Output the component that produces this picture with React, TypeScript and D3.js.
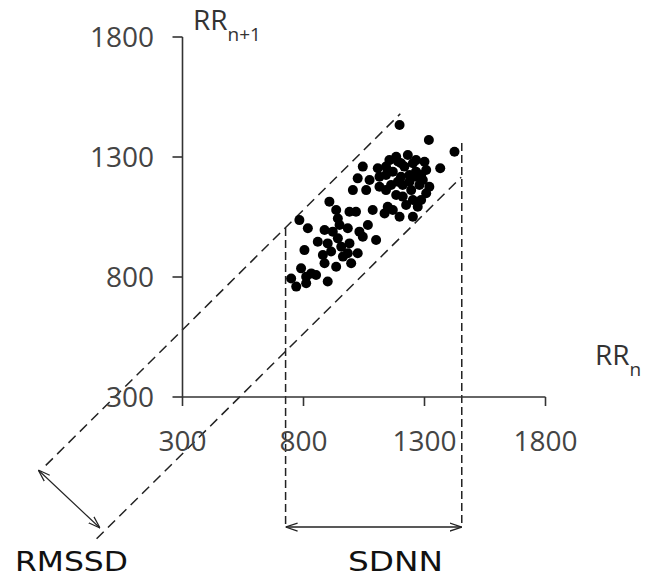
import React from 'react';
import * as d3 from 'd3';

const tickValues = [300, 800, 1300, 1800];

// RR_n (x) and RR_n+1 (y) in ms
const rrN = [1197, 1318, 1424, 1365, 1183, 1231, 1265, 1300, 1252, 1107, 1141, 1045, 1217, 1265, 1169, 1203, 1141, 1265, 1293, 1024, 1073, 1114, 1059, 1004, 1141, 1210, 1238, 1279, 1307, 1183, 1210, 1252, 1224, 1148, 1169, 1197, 1252, 1135, 1086, 1066, 907, 990, 1017, 935, 942, 949, 783, 818, 887, 921, 983, 1031, 1045, 859, 900, 942, 956, 990, 1100, 804, 880, 914, 963, 983, 1024, 790, 832, 852, 811, 887, 935, 997, 749, 770, 811, 900, 1203, 1238, 1307, 1320, 1286, 1245, 1272, 1190, 1162, 1190, 1286, 1155, 1114];
const rrN1 = [1433, 1371, 1322, 1253, 1301, 1308, 1287, 1280, 1274, 1253, 1260, 1260, 1260, 1239, 1239, 1218, 1225, 1218, 1204, 1211, 1204, 1218, 1162, 1162, 1162, 1183, 1197, 1183, 1149, 1142, 1135, 1121, 1100, 1093, 1079, 1051, 1051, 1065, 1079, 1017, 1114, 1072, 1072, 1079, 1044, 1017, 1037, 1003, 996, 989, 1003, 989, 968, 947, 940, 961, 926, 940, 954, 912, 892, 906, 885, 899, 899, 836, 815, 808, 801, 857, 843, 857, 794, 760, 774, 781, 1274, 1225, 1246, 1176, 1121, 1162, 1093, 1197, 1183, 1281, 1225, 1287, 1176];

// band lines parallel to identity (data units)
const upperBand = [[-265, 15], [1200, 1480]];
const lowerBand = [[-55, -291], [1452, 1216]];
// SDNN verticals and arrow
const sdnnLeft = [[726, 1004], [726, -242]];
const sdnnRight = [[1454, 1358], [1454, -242]];
const sdnnArrow = [[726, -242], [1454, -242]];
// RMSSD arrow
const rmssdArrow = [[-296, -4], [-41, -246]];

export default function App() {
  const W = 647, H = 579;
  const x = d3.scaleLinear().domain([300, 1800]).range([182.5, 545.5]);
  const y = d3.scaleLinear().domain([300, 1800]).range([397, 37]);
  const line = d3.line<number[]>().x(d => x(d[0])).y(d => y(d[1]));
  const tickFont = "'Open Sans', 'Noto Sans', sans-serif";
  const ink = '#222';
  const dash = '10,6';
  return (
    <svg width={W} height={H} style={{ position: 'absolute', left: 0, top: 0, background: '#fff' }}>
      <defs>
        <marker id="arr" viewBox="0 0 12 10" refX="12" refY="5" markerWidth="12" markerHeight="10"
          markerUnits="userSpaceOnUse" orient="auto-start-reverse">
          <path d="M0,1 L12,5 L0,9" fill="none" stroke={ink} strokeWidth={1.2} />
        </marker>
      </defs>
      <rect width={W} height={H} fill="#fff" />
      {/* dashed band lines */}
      <path d={line(upperBand as any) || ''} stroke={ink} strokeWidth={1.5} strokeDasharray={dash} fill="none" />
      <path d={line(lowerBand as any) || ''} stroke={ink} strokeWidth={1.5} strokeDasharray={dash} fill="none" />
      <path d={line(sdnnLeft as any) || ''} stroke={ink} strokeWidth={1.5} strokeDasharray="8,4" fill="none" />
      <path d={line(sdnnRight as any) || ''} stroke={ink} strokeWidth={1.5} strokeDasharray="8,4" fill="none" />
      <path d={line(sdnnArrow as any) || ''} stroke={ink} strokeWidth={1.5} fill="none"
        markerStart="url(#arr)" markerEnd="url(#arr)" />
      <path d={line(rmssdArrow as any) || ''} stroke={ink} strokeWidth={1.2} fill="none"
        markerStart="url(#arr)" markerEnd="url(#arr)" />
      {/* axes */}
      <line x1={x(300)} x2={x(1800)} y1={y(300)} y2={y(300)} stroke="#333" strokeWidth={1.6} />
      <line x1={x(300)} x2={x(300)} y1={y(300)} y2={y(1800)} stroke="#333" strokeWidth={1.6} />
      {tickValues.map(v => (
        <g key={'xt' + v}>
          <line x1={x(v)} x2={x(v)} y1={y(300)} y2={y(300) + 9} stroke="#333" strokeWidth={1.6} />
          <text x={x(v)} y={451} textAnchor="middle" fontFamily={tickFont} fontSize={28} fill="#444">{v}</text>
        </g>
      ))}
      {tickValues.map(v => (
        <g key={'yt' + v}>
          <line x1={x(300) - 10} x2={x(300)} y1={y(v)} y2={y(v)} stroke="#333" strokeWidth={1.6} />
          <text x={154} y={y(v)} dy="0.36em" textAnchor="end" fontFamily={tickFont} fontSize={28} fill="#444">{v}</text>
        </g>
      ))}
      {/* points */}
      {rrN.map((v, i) => (
        <circle key={'p' + i} cx={x(v)} cy={y(rrN1[i])} r={5} fill="#000" />
      ))}
      {/* axis labels */}
      <text x={193} y={30} fontFamily={tickFont} fontSize={28} fill="#333">
        RR<tspan fontSize={19} dy={11}>n+1</tspan>
      </text>
      <text x={595} y={365} fontFamily={tickFont} fontSize={28} fill="#333">
        RR<tspan fontSize={19} dy={11}>n</tspan>
      </text>
      <text x={15} y={571} fontFamily="'DejaVu Sans', sans-serif" fontSize={26} fill="#111"
        textLength={113} lengthAdjust="spacingAndGlyphs">RMSSD</text>
      <text x={348} y={571} fontFamily="'DejaVu Sans', sans-serif" fontSize={26} fill="#111"
        textLength={95} lengthAdjust="spacingAndGlyphs">SDNN</text>
    </svg>
  );
}
